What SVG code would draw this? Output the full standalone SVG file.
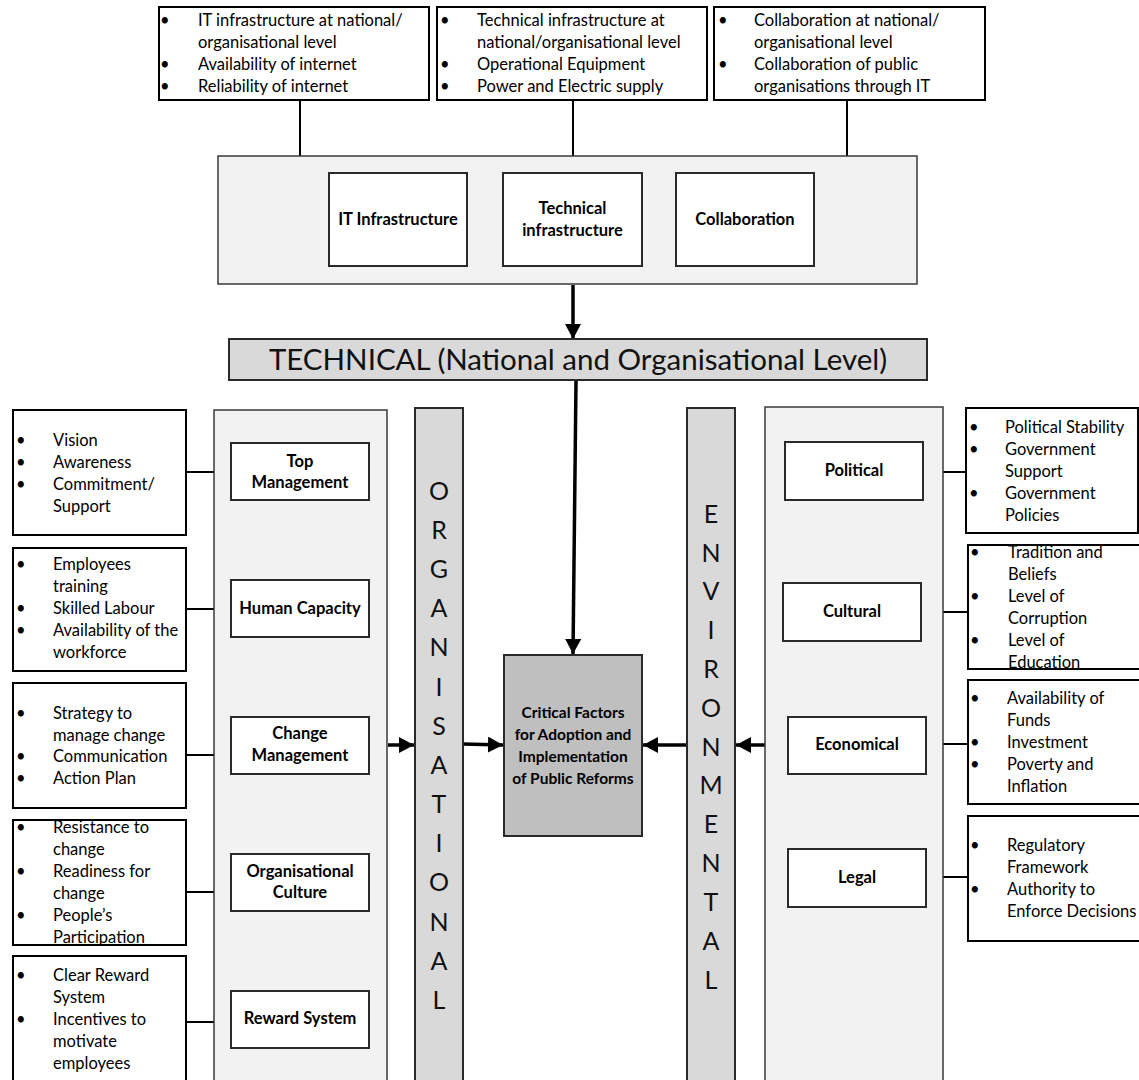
<svg xmlns="http://www.w3.org/2000/svg" width="1139" height="1080" viewBox="0 0 1139 1080">
  <defs>
    <marker id="head" markerUnits="userSpaceOnUse" markerWidth="16" markerHeight="16" refX="15" refY="8" orient="auto">
      <path d="M0,0 L15,8 L0,16 Z" fill="#000"/>
    </marker>
    <style>
      .bg { fill: #ffffff; }
      .panel { fill: #f2f2f2; stroke: #3a3a3a; stroke-width: 1.5; }
      .item { fill: #ffffff; stroke: #2a2a2a; stroke-width: 2; }
      .list { fill: #ffffff; stroke: #000; stroke-width: 2; }
      .band { fill: #d9d9d9; stroke: #2a2a2a; stroke-width: 2; }
      .core { fill: #bfbfbf; stroke: #2a2a2a; stroke-width: 2; }
      .link { stroke: #000; stroke-width: 2; fill: none; }
      .flow { stroke: #000; stroke-width: 3.5; fill: none; marker-end: url(#head); }
      text { font-family: Lato, "Open Sans", "Liberation Sans", sans-serif; fill: #000; }
      .t { font-size: 16.5px; }
      .lbl { font-size: 16.5px; font-weight: bold; text-anchor: middle; }
      .core-lbl { font-size: 15.5px; font-weight: bold; text-anchor: middle; }
      .big { font-size: 29.5px; text-anchor: middle; fill: #111; }
      .vert { font-size: 25px; text-anchor: middle; fill: #111; }
    </style>
  </defs>

  <rect class="bg" x="0" y="0" width="1139" height="1080"/>

  <!-- connectors -->
  <g id="connectors">
    <line class="link" x1="300" y1="100" x2="300" y2="156"/>
    <line class="link" x1="573" y1="100" x2="573" y2="156"/>
    <line class="link" x1="847" y1="100" x2="847" y2="156"/>
    <line class="link" x1="186" y1="472" x2="214" y2="472"/>
    <line class="link" x1="186" y1="609" x2="214" y2="609"/>
    <line class="link" x1="186" y1="755" x2="214" y2="755"/>
    <line class="link" x1="186" y1="892" x2="214" y2="892"/>
    <line class="link" x1="186" y1="1022" x2="214" y2="1022"/>
    <line class="link" x1="943" y1="472" x2="966" y2="472"/>
    <line class="link" x1="943" y1="612" x2="968" y2="612"/>
    <line class="link" x1="943" y1="744" x2="968" y2="744"/>
    <line class="link" x1="943" y1="877" x2="968" y2="877"/>
    <line class="flow" x1="573" y1="285" x2="573" y2="339"/>
    <line class="flow" x1="576" y1="381" x2="573" y2="654"/>
    <line class="flow" x1="388" y1="745" x2="414" y2="745"/>
    <line class="flow" x1="463" y1="744" x2="503" y2="745"/>
    <line class="flow" x1="687" y1="745" x2="643" y2="745"/>
    <line class="flow" x1="765" y1="745" x2="736" y2="745"/>
  </g>

  <!-- top detail lists -->
  <g id="list-it">
    <rect class="list" x="159" y="7" width="270" height="93"/>
    <text class="t"><tspan x="160" y="26">•</tspan><tspan x="198" y="26">IT infrastructure at national/</tspan><tspan x="198" y="48">organisational level</tspan><tspan x="160" y="70">•</tspan><tspan x="198" y="70">Availability of internet</tspan><tspan x="160" y="92">•</tspan><tspan x="198" y="92">Reliability of internet</tspan></text>
  </g>
  <g id="list-tech">
    <rect class="list" x="437" y="7" width="270" height="93"/>
    <text class="t"><tspan x="440" y="26">•</tspan><tspan x="477" y="26">Technical infrastructure at</tspan><tspan x="477" y="48">national/organisational level</tspan><tspan x="440" y="70">•</tspan><tspan x="477" y="70">Operational Equipment</tspan><tspan x="440" y="92">•</tspan><tspan x="477" y="92">Power and Electric supply</tspan></text>
  </g>
  <g id="list-collab">
    <rect class="list" x="714" y="7" width="271" height="93"/>
    <text class="t"><tspan x="718" y="26">•</tspan><tspan x="754" y="26">Collaboration at national/</tspan><tspan x="754" y="48">organisational level</tspan><tspan x="718" y="70">•</tspan><tspan x="754" y="70">Collaboration of public</tspan><tspan x="754" y="92">organisations through IT</tspan></text>
  </g>

  <!-- technical panel -->
  <g id="technical-panel">
    <rect class="panel" x="218" y="156" width="699" height="128"/>
  </g>
  <g id="it-infrastructure">
    <rect class="item" x="329" y="173" width="138" height="93"/>
    <text class="lbl" x="398" y="225">IT Infrastructure</text>
  </g>
  <g id="technical-infrastructure">
    <rect class="item" x="503" y="173" width="139" height="93"/>
    <text class="lbl" x="572.5" y="214">Technical</text>
    <text class="lbl" x="572.5" y="236">infrastructure</text>
  </g>
  <g id="collaboration">
    <rect class="item" x="676" y="173" width="138" height="93"/>
    <text class="lbl" x="745" y="225">Collaboration</text>
  </g>

  <g id="technical-band">
    <rect class="band" x="229" y="339" width="698" height="41"/>
    <text class="big" x="578" y="370">TECHNICAL (National and Organisational Level)</text>
  </g>

  <!-- organisational side -->
  <g id="organisational-panel">
    <rect class="panel" x="214" y="410" width="173" height="680"/>
  </g>
  <g id="top-management">
    <rect class="item" x="231" y="443" width="138" height="57"/>
    <text class="lbl" x="300" y="467">Top</text>
    <text class="lbl" x="300" y="488">Management</text>
  </g>
  <g id="human-capacity">
    <rect class="item" x="231" y="580" width="138" height="57"/>
    <text class="lbl" x="300" y="614">Human Capacity</text>
  </g>
  <g id="change-management">
    <rect class="item" x="231" y="717" width="138" height="57"/>
    <text class="lbl" x="300" y="739">Change</text>
    <text class="lbl" x="300" y="761">Management</text>
  </g>
  <g id="organisational-culture">
    <rect class="item" x="231" y="854" width="138" height="57"/>
    <text class="lbl" x="300" y="877">Organisational</text>
    <text class="lbl" x="300" y="898">Culture</text>
  </g>
  <g id="reward-system">
    <rect class="item" x="231" y="991" width="138" height="57"/>
    <text class="lbl" x="300" y="1024">Reward System</text>
  </g>

  <g id="list-top-management">
    <rect class="list" x="13" y="410" width="173" height="125"/>
    <text class="t"><tspan x="16" y="446">•</tspan><tspan x="53" y="446">Vision</tspan><tspan x="16" y="468">•</tspan><tspan x="53" y="468">Awareness</tspan><tspan x="16" y="490">•</tspan><tspan x="53" y="490">Commitment/</tspan><tspan x="53" y="512">Support</tspan></text>
  </g>
  <g id="list-human-capacity">
    <rect class="list" x="13" y="548" width="173" height="123"/>
    <text class="t"><tspan x="16" y="570">•</tspan><tspan x="53" y="570">Employees</tspan><tspan x="53" y="592">training</tspan><tspan x="16" y="614">•</tspan><tspan x="53" y="614">Skilled Labour</tspan><tspan x="16" y="636">•</tspan><tspan x="53" y="636">Availability of the</tspan><tspan x="53" y="658">workforce</tspan></text>
  </g>
  <g id="list-change-management">
    <rect class="list" x="13" y="683" width="173" height="125"/>
    <text class="t"><tspan x="16" y="719">•</tspan><tspan x="53" y="719">Strategy to</tspan><tspan x="53" y="741">manage change</tspan><tspan x="16" y="762">•</tspan><tspan x="53" y="762">Communication</tspan><tspan x="16" y="784">•</tspan><tspan x="53" y="784">Action Plan</tspan></text>
  </g>
  <g id="list-organisational-culture">
    <rect class="list" x="13" y="820" width="173" height="125"/>
    <text class="t"><tspan x="16" y="833">•</tspan><tspan x="53" y="833">Resistance to</tspan><tspan x="53" y="855">change</tspan><tspan x="16" y="877">•</tspan><tspan x="53" y="877">Readiness for</tspan><tspan x="53" y="899">change</tspan><tspan x="16" y="921">•</tspan><tspan x="53" y="921">People’s</tspan><tspan x="53" y="943">Participation</tspan></text>
  </g>
  <g id="list-reward-system">
    <rect class="list" x="13" y="956" width="173" height="140"/>
    <text class="t"><tspan x="16" y="981">•</tspan><tspan x="53" y="981">Clear Reward</tspan><tspan x="53" y="1003">System</tspan><tspan x="16" y="1025">•</tspan><tspan x="53" y="1025">Incentives to</tspan><tspan x="53" y="1047">motivate</tspan><tspan x="53" y="1069">employees</tspan></text>
  </g>

  <g id="organisational-band">
    <rect class="band" x="415" y="408" width="48" height="690"/>
    <text class="vert"><tspan x="439" y="500">O</tspan><tspan x="439" y="539">R</tspan><tspan x="439" y="578">G</tspan><tspan x="439" y="617">A</tspan><tspan x="439" y="656">N</tspan><tspan x="439" y="696">I</tspan><tspan x="439" y="735">S</tspan><tspan x="439" y="774">A</tspan><tspan x="439" y="813">T</tspan><tspan x="439" y="852">I</tspan><tspan x="439" y="891">O</tspan><tspan x="439" y="931">N</tspan><tspan x="439" y="970">A</tspan><tspan x="439" y="1009">L</tspan></text>
  </g>

  <!-- centre -->
  <g id="critical-factors">
    <rect class="core" x="504" y="655" width="138" height="181"/>
    <text class="core-lbl" x="573" y="718">Critical Factors</text>
    <text class="core-lbl" x="573" y="740">for Adoption and</text>
    <text class="core-lbl" x="573" y="762">Implementation</text>
    <text class="core-lbl" x="573" y="784">of Public Reforms</text>
  </g>

  <!-- environmental side -->
  <g id="environmental-band">
    <rect class="band" x="687" y="408" width="48" height="690"/>
    <text class="vert"><tspan x="711" y="523">E</tspan><tspan x="711" y="562">N</tspan><tspan x="711" y="600">V</tspan><tspan x="711" y="639">I</tspan><tspan x="711" y="678">R</tspan><tspan x="711" y="717">O</tspan><tspan x="711" y="756">N</tspan><tspan x="711" y="794">M</tspan><tspan x="711" y="833">E</tspan><tspan x="711" y="872">N</tspan><tspan x="711" y="911">T</tspan><tspan x="711" y="950">A</tspan><tspan x="711" y="989">L</tspan></text>
  </g>
  <g id="environmental-panel">
    <rect class="panel" x="765" y="407" width="178" height="690"/>
  </g>
  <g id="political">
    <rect class="item" x="785" y="442" width="138" height="58"/>
    <text class="lbl" x="854" y="476">Political</text>
  </g>
  <g id="cultural">
    <rect class="item" x="783" y="583" width="138" height="58"/>
    <text class="lbl" x="852" y="617">Cultural</text>
  </g>
  <g id="economical">
    <rect class="item" x="788" y="717" width="138" height="57"/>
    <text class="lbl" x="857" y="750">Economical</text>
  </g>
  <g id="legal">
    <rect class="item" x="788" y="849" width="138" height="58"/>
    <text class="lbl" x="857" y="883">Legal</text>
  </g>

  <g id="list-political">
    <rect class="list" x="966" y="408" width="172" height="125"/>
    <text class="t"><tspan x="969" y="433">•</tspan><tspan x="1005" y="433">Political Stability</tspan><tspan x="969" y="455">•</tspan><tspan x="1005" y="455">Government</tspan><tspan x="1005" y="477">Support</tspan><tspan x="969" y="499">•</tspan><tspan x="1005" y="499">Government</tspan><tspan x="1005" y="521">Policies</tspan></text>
  </g>
  <g id="list-cultural">
    <rect class="list" x="968" y="545" width="172" height="124"/>
    <text class="t"><tspan x="970" y="558">•</tspan><tspan x="1008" y="558">Tradition and</tspan><tspan x="1008" y="580">Beliefs</tspan><tspan x="970" y="602">•</tspan><tspan x="1008" y="602">Level of</tspan><tspan x="1008" y="624">Corruption</tspan><tspan x="970" y="646">•</tspan><tspan x="1008" y="646">Level of</tspan><tspan x="1008" y="668">Education</tspan></text>
  </g>
  <g id="list-economical">
    <rect class="list" x="968" y="680" width="172" height="124"/>
    <text class="t"><tspan x="970" y="704">•</tspan><tspan x="1007" y="704">Availability of</tspan><tspan x="1007" y="726">Funds</tspan><tspan x="970" y="748">•</tspan><tspan x="1007" y="748">Investment</tspan><tspan x="970" y="770">•</tspan><tspan x="1007" y="770">Poverty and</tspan><tspan x="1007" y="792">Inflation</tspan></text>
  </g>
  <g id="list-legal">
    <rect class="list" x="968" y="816" width="172" height="125"/>
    <text class="t"><tspan x="970" y="851">•</tspan><tspan x="1007" y="851">Regulatory</tspan><tspan x="1007" y="873">Framework</tspan><tspan x="970" y="895">•</tspan><tspan x="1007" y="895">Authority to</tspan><tspan x="1007" y="917">Enforce Decisions</tspan></text>
  </g>
</svg>
